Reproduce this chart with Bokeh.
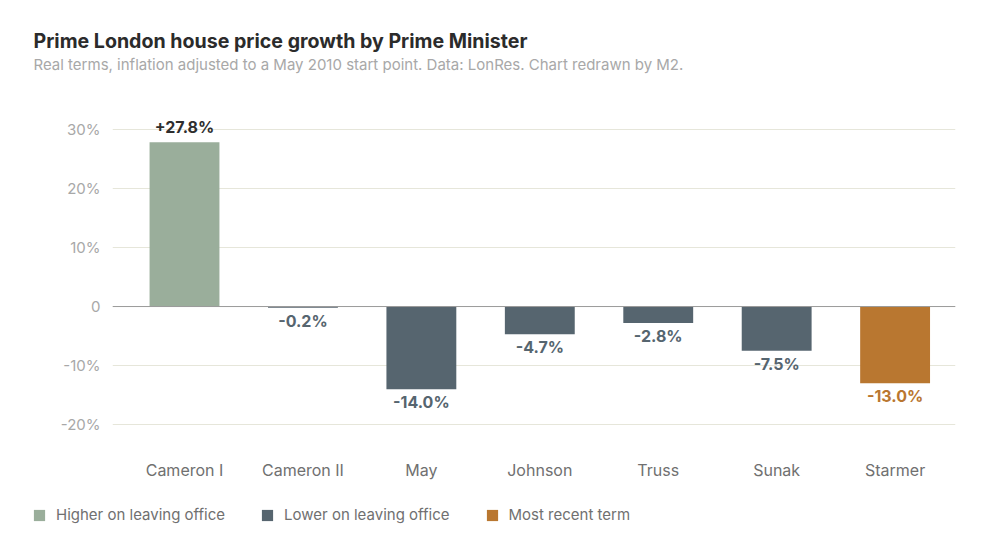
from bokeh.plotting import figure
from bokeh.models import ColumnDataSource, FixedTicker, Range1d, Span, Title
from bokeh.layouts import column, row
from bokeh.core.properties import value
from bokeh.embed import file_html
from bokeh.resources import INLINE

# ---- data ----
names = ["Cameron I", "Cameron II", "May", "Johnson", "Truss", "Sunak", "Starmer"]
values = [27.8, -0.2, -14.0, -4.7, -2.8, -7.5, -13.0]
groups = ["Higher on leaving office", "Lower on leaving office", "Lower on leaving office",
          "Lower on leaving office", "Lower on leaving office", "Lower on leaving office",
          "Most recent term"]
labels = ["+27.8%", "-0.2%", "-14.0%", "-4.7%", "-2.8%", "-7.5%", "-13.0%"]
y_ticks = [-20, -10, 0, 10, 20, 30]
y_tick_labels = ["-20%", "-10%", "0", "10%", "20%", "30%"]

group_colors = {"Higher on leaving office": "#9aae9b",
                "Lower on leaving office": "#56656f",
                "Most recent term": "#b97730"}
label_colors = {"Higher on leaving office": "#2e2e2e",
                "Lower on leaving office": "#56656f",
                "Most recent term": "#b97730"}

xs = list(range(len(names)))
src = ColumnDataSource(dict(
    x=xs, v=values, group=groups, label=labels,
    color=[group_colors[g] for g in groups],
    lcolor=[label_colors[g] for g in groups],
))
pos = ColumnDataSource({k: [c for c, val in zip(col, values) if val >= 0] for k, col in src.data.items()})
neg = ColumnDataSource({k: [c for c, val in zip(col, values) if val < 0] for k, col in src.data.items()})

FONT = "Inter"

p = figure(width=1000, height=490, output_backend="svg", toolbar_location=None,
           x_range=Range1d(-0.608, 6.51), y_range=Range1d(-22, 32),
           min_border_left=112, min_border_right=45, min_border_bottom=54,
           min_border_top=0)
p.outline_line_color = None
p.background_fill_color = "white"
p.border_fill_color = "white"

p.vbar(x="x", top="v", bottom=0, width=0.59, source=src, fill_color="color",
       line_color=None)

p.text(x="x", y="v", text="label", source=pos, text_align="center",
       text_baseline="alphabetic", y_offset=-15, text_font=value(FONT),
       text_font_style="bold", text_font_size="16px", text_color="lcolor")
p.text(x="x", y="v", text="label", source=neg, text_align="center",
       text_baseline="top", y_offset=3, text_font=value(FONT),
       text_font_style="bold", text_font_size="16px", text_color="lcolor")

p.add_layout(Span(location=0, dimension="width", line_color="#9a9a9a", line_width=1))

# axes
p.xaxis.ticker = FixedTicker(ticks=xs)
p.xaxis.major_label_overrides = {i: n for i, n in zip(xs, names)}
p.xaxis.axis_line_color = None
p.xaxis.major_tick_line_color = None
p.xaxis.minor_tick_line_color = None
p.xaxis.major_tick_out = 0
p.xaxis.major_tick_in = 0
p.xaxis.minor_tick_out = 0
p.xaxis.major_label_text_font = FONT
p.xaxis.major_label_text_font_size = "16px"
p.xaxis.major_label_text_color = "#707070"
p.xaxis.major_label_standoff = 23

p.yaxis.ticker = FixedTicker(ticks=y_ticks)
p.yaxis.major_label_overrides = {t: l for t, l in zip(y_ticks, y_tick_labels)}
p.yaxis.axis_line_color = None
p.yaxis.major_tick_line_color = None
p.yaxis.minor_tick_line_color = None
p.yaxis.major_tick_out = 0
p.yaxis.major_tick_in = 0
p.yaxis.minor_tick_out = 0
p.yaxis.major_label_text_font = FONT
p.yaxis.major_label_text_font_size = "15px"
p.yaxis.major_label_text_color = "#a8a8a8"
p.yaxis.major_label_standoff = 12

p.xgrid.grid_line_color = None
p.ygrid.grid_line_color = "#e6e6da"
p.ygrid.grid_line_width = 1

# titles (spacer, subtitle, title, spacer)
p.add_layout(Title(text=" ", text_font=FONT, text_font_size="10px", standoff=30), "above")
p.add_layout(Title(text="Real terms, inflation adjusted to a May 2010 start point. Data: LonRes. Chart redrawn by M2.",
                   text_font=FONT, text_font_size="15px", text_font_style="normal",
                   text_color="#a8a8a8", align="left", offset=-79, standoff=0), "above")
p.add_layout(Title(text="Prime London house price growth by Prime Minister",
                   text_font=FONT, text_font_size="19.6px", text_font_style="bold",
                   text_color="#2b2b2b", align="left", offset=-79, standoff=0), "above")
p.add_layout(Title(text=" ", text_font=FONT, text_font_size="10px", standoff=12), "above")

# ---- legend strip (same data; its bar renderer is hidden, only the legend shows) ----
lg = figure(width=1000, height=46, output_backend="svg", toolbar_location=None,
            x_range=Range1d(100, 101), y_range=Range1d(0, 1),
            x_axis_location=None, y_axis_location=None,
            min_border=0, min_border_left=0, min_border_right=0,
            min_border_top=0, min_border_bottom=0)
lg.outline_line_color = None
lg.background_fill_color = None
lg.border_fill_color = None
lg.grid.visible = False
r = lg.vbar(x="x", top="v", bottom=0, width=0.59, source=src, fill_color="color",
            line_color=None, legend_group="group")
r.visible = False
leg = lg.legend[0]
leg.orientation = "horizontal"
leg.location = (32, 12)
leg.border_line_color = None
leg.background_fill_alpha = 0
leg.inactive_fill_alpha = 0
leg.padding = 0
leg.margin = 0
leg.spacing = 35
leg.glyph_width = 14
leg.glyph_height = 14
leg.label_standoff = 10
leg.label_text_font = FONT
leg.label_text_font_size = "15px"
leg.label_text_color = "#707070"

layout = column(p, row(lg), spacing=0)
open("out.html", "w").write(file_html(layout, INLINE))
